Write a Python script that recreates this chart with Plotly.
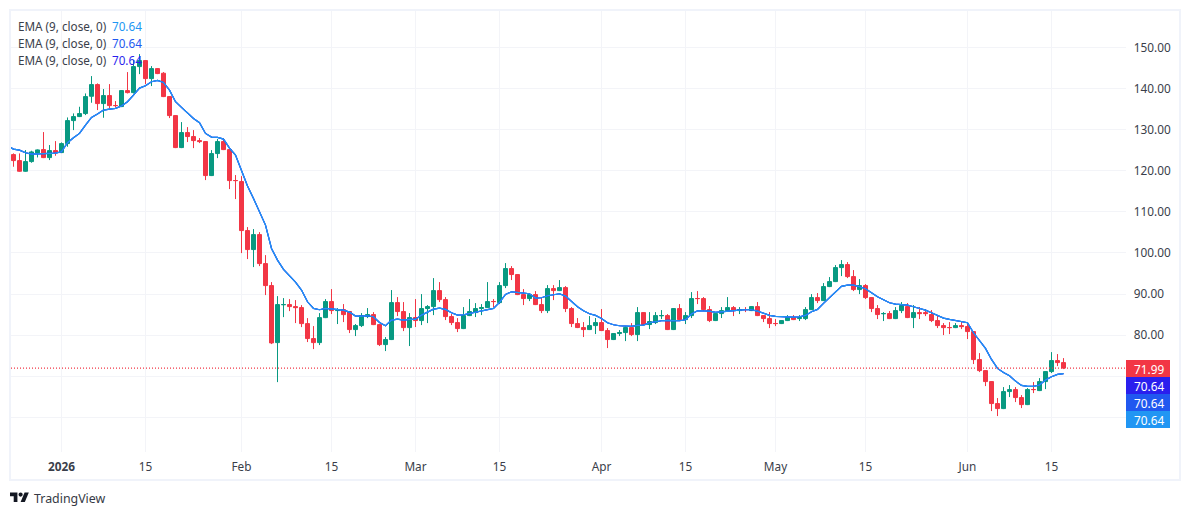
import plotly.graph_objects as go

# Daily OHLC, one row of ten bars per line
opens = [
    123.92, 122.46, 119.87, 122.22, 124.33, 125.14, 123.19, 124.90, 124.41, 126.60,
    132.19, 133.17, 133.90, 138.11, 140.95, 136.33, 138.28, 135.86, 135.60, 139.49,
    139.00, 145.33, 146.79, 142.41, 144.84, 143.71, 138.03, 133.41, 125.63, 129.28,
    128.31, 127.33, 127.09, 118.82, 124.17, 127.09, 125.14, 117.62, 117.36, 105.44,
    100.82, 104.46, 97.41, 92.06, 78.19, 87.42, 87.44, 86.95, 86.71, 82.81,
    79.17, 78.19, 84.27, 88.17, 85.98, 86.22, 85.74, 81.36, 82.33, 84.52,
    85.01, 82.57, 77.71, 78.93, 87.92, 85.74, 81.84, 84.28, 83.55, 86.47,
    86.95, 90.84, 88.65, 84.52, 83.06, 81.60, 84.76, 85.49, 86.47, 86.71,
    88.19, 87.92, 92.06, 96.20, 94.74, 89.87, 88.90, 89.87, 87.44, 85.98,
    91.33, 90.84, 91.57, 86.47, 82.82, 81.85, 81.36, 82.33, 83.06, 81.12,
    78.93, 80.39, 80.63, 81.85, 80.14, 85.49, 82.58, 83.06, 84.74, 84.76,
    81.36, 86.47, 83.79, 84.76, 88.92, 88.90, 86.22, 83.55, 85.25, 85.98,
    86.71, 85.98, 86.24, 85.98, 86.95, 84.76, 84.03, 82.84, 82.82, 83.55,
    84.28, 84.03, 84.03, 86.22, 89.14, 88.41, 91.82, 93.03, 96.44, 97.17,
    94.25, 91.09, 92.06, 89.14, 86.47, 85.23, 85.25, 84.03, 85.98, 86.95,
    84.28, 85.49, 85.49, 85.01, 83.55, 82.33, 81.86, 81.84, 82.33, 82.09,
    80.87, 74.06, 71.38, 68.71, 63.36, 62.14, 66.28, 66.76, 64.82, 63.11,
    66.78, 66.52, 68.71, 71.14, 73.82, 73.33,
]
highs = [
    124.21, 124.21, 125.02, 124.86, 125.18, 129.40, 126.24, 127.21, 126.88, 132.96,
    133.94, 135.56, 138.80, 143.02, 141.24, 139.86, 141.07, 136.94, 139.61, 143.99,
    146.91, 148.37, 146.91, 145.45, 144.96, 143.99, 138.15, 133.53, 131.83, 130.61,
    129.88, 127.94, 127.21, 125.02, 127.70, 127.94, 125.26, 118.94, 118.69, 106.29,
    105.80, 105.07, 99.47, 92.91, 89.50, 89.02, 88.77, 88.53, 87.31, 84.15,
    82.21, 85.37, 88.77, 91.21, 86.58, 87.56, 85.86, 82.70, 85.37, 86.59,
    85.61, 82.70, 79.53, 90.97, 89.26, 88.05, 85.37, 88.78, 89.99, 87.32,
    93.88, 92.91, 89.26, 85.13, 84.15, 86.83, 88.78, 87.80, 87.56, 92.91,
    88.78, 92.91, 97.53, 96.80, 94.86, 91.21, 90.24, 90.72, 89.02, 92.18,
    92.18, 93.40, 91.94, 86.83, 84.16, 83.18, 84.64, 84.16, 86.35, 81.72,
    80.51, 81.24, 82.21, 82.94, 86.83, 85.61, 85.61, 85.61, 86.10, 85.13,
    86.59, 87.56, 85.61, 90.48, 90.72, 89.26, 87.08, 85.61, 86.83, 89.26,
    87.08, 86.83, 86.83, 87.08, 88.05, 84.88, 85.61, 83.91, 83.67, 84.88,
    84.88, 84.88, 86.83, 89.99, 90.24, 92.67, 94.13, 97.05, 98.26, 97.78,
    95.83, 93.64, 92.42, 89.26, 87.32, 85.61, 85.86, 86.83, 88.05, 87.80,
    87.32, 86.83, 86.34, 86.10, 84.64, 82.94, 83.18, 82.94, 83.18, 82.70,
    80.99, 75.64, 71.51, 68.83, 64.70, 67.37, 67.86, 67.37, 65.42, 67.13,
    68.59, 69.56, 71.26, 75.88, 75.40, 74.42,
]
lows = [
    120.97, 119.75, 119.75, 121.94, 123.23, 123.07, 122.59, 123.64, 124.29, 125.83,
    129.88, 133.05, 133.53, 136.53, 134.75, 132.88, 135.15, 135.40, 135.48, 138.80,
    138.80, 143.50, 141.07, 140.59, 143.50, 137.91, 132.80, 125.50, 125.50, 126.97,
    125.50, 126.72, 117.72, 118.70, 123.07, 125.02, 115.53, 113.10, 99.96, 98.51,
    96.56, 96.80, 89.75, 77.83, 68.58, 84.39, 85.85, 82.94, 81.96, 78.32,
    76.61, 77.59, 84.15, 85.13, 82.70, 83.18, 80.51, 79.78, 81.97, 84.15,
    82.45, 77.35, 76.13, 78.81, 84.64, 80.99, 77.35, 81.97, 82.45, 82.94,
    84.88, 88.05, 83.67, 82.45, 80.75, 81.48, 84.64, 84.40, 84.88, 86.59,
    86.83, 87.56, 91.45, 93.40, 89.75, 87.32, 88.29, 87.32, 85.37, 85.37,
    88.53, 90.72, 85.61, 81.97, 81.72, 79.54, 81.24, 80.27, 80.99, 76.86,
    78.81, 79.78, 78.56, 79.78, 78.56, 82.45, 81.48, 82.70, 83.91, 81.24,
    81.24, 83.43, 82.70, 84.16, 87.56, 85.86, 83.18, 83.43, 84.16, 85.86,
    84.64, 85.13, 85.61, 85.86, 84.64, 83.18, 81.72, 82.21, 82.70, 83.43,
    83.67, 83.43, 83.67, 86.10, 87.80, 88.29, 91.69, 92.91, 94.37, 93.88,
    90.72, 89.99, 88.78, 85.61, 83.91, 83.43, 83.91, 83.91, 85.37, 84.15,
    81.72, 83.91, 84.64, 83.18, 81.72, 80.02, 80.26, 81.72, 81.48, 79.05,
    72.97, 71.02, 67.61, 61.53, 60.32, 62.02, 64.94, 63.72, 62.26, 62.99,
    65.91, 66.40, 66.88, 70.78, 72.48, 71.75,
]
closes = [
    122.46, 119.87, 122.22, 124.57, 125.06, 123.19, 124.90, 124.41, 126.60, 132.19,
    133.17, 133.90, 138.03, 140.95, 136.33, 138.28, 135.84, 135.84, 139.49, 139.00,
    145.33, 146.79, 142.41, 144.84, 143.63, 138.03, 133.41, 125.63, 129.28, 128.31,
    127.33, 127.09, 118.82, 124.17, 127.09, 125.14, 117.60, 117.60, 105.44, 100.82,
    104.46, 97.41, 92.06, 78.11, 87.44, 87.44, 86.95, 86.71, 82.81, 79.17,
    78.19, 84.27, 88.17, 85.98, 86.22, 85.00, 81.36, 82.33, 84.76, 85.01,
    82.57, 77.71, 78.93, 87.92, 85.74, 81.84, 84.28, 83.55, 86.47, 86.95,
    90.84, 88.65, 84.52, 83.06, 81.60, 84.76, 85.74, 86.47, 86.71, 88.17,
    88.17, 92.06, 96.20, 94.74, 89.87, 88.90, 89.87, 87.44, 85.98, 91.33,
    90.84, 91.57, 86.47, 82.82, 81.85, 81.36, 82.33, 83.06, 81.12, 78.93,
    80.39, 80.63, 81.85, 80.14, 85.49, 82.58, 83.31, 84.76, 84.76, 81.36,
    86.47, 83.79, 84.76, 88.90, 88.90, 86.22, 83.55, 85.25, 85.98, 86.71,
    85.98, 86.22, 86.22, 86.95, 84.76, 84.03, 82.82, 82.82, 83.55, 84.28,
    83.79, 84.28, 86.22, 89.14, 88.41, 91.82, 93.03, 96.44, 97.17, 94.25,
    91.09, 92.06, 89.14, 86.47, 85.01, 85.25, 84.03, 85.98, 87.20, 84.28,
    85.49, 85.25, 85.25, 83.55, 82.33, 81.84, 81.84, 82.33, 82.09, 80.87,
    74.06, 71.38, 68.71, 63.36, 62.14, 66.28, 66.76, 64.82, 63.11, 66.76,
    66.76, 68.71, 71.14, 73.82, 73.33, 71.99,
]

# EMA reading for the bar just before the window, then one per visible bar
ema_9 = [
    126.07,
    125.26, 125.02, 124.37, 124.05, 124.13, 124.21, 124.29, 124.29, 124.62, 126.80,
    128.02, 129.07, 131.10, 132.96, 133.78, 134.75, 134.99, 135.15, 135.72, 136.78,
    138.40, 140.10, 140.67, 141.64, 141.97, 141.48, 139.61, 136.78, 135.40, 133.94,
    132.72, 131.67, 129.07, 128.18, 128.10, 127.70, 125.50, 123.80, 120.15, 116.26,
    113.26, 110.02, 106.77, 101.10, 98.26, 95.99, 94.37, 92.91, 90.96, 88.12,
    86.50, 86.18, 86.50, 86.42, 86.34, 86.10, 85.61, 84.64, 84.64, 84.72,
    84.48, 83.10, 82.29, 83.67, 83.91, 83.67, 83.83, 83.83, 84.88, 85.70,
    86.34, 86.59, 86.26, 85.45, 84.88, 84.96, 85.29, 85.61, 86.02, 86.26,
    86.51, 87.96, 89.91, 90.56, 90.48, 90.24, 90.07, 89.02, 89.10, 89.59,
    89.83, 90.07, 89.51, 88.13, 86.90, 85.94, 85.21, 84.80, 84.07, 83.02,
    82.53, 82.29, 82.13, 82.13, 82.37, 82.45, 83.02, 83.35, 83.51, 83.59,
    83.59, 83.51, 83.75, 85.13, 85.94, 85.86, 85.86, 85.53, 85.70, 85.94,
    86.02, 86.10, 86.18, 86.18, 85.86, 85.29, 84.80, 84.56, 84.48, 84.48,
    84.40, 84.48, 84.80, 85.70, 86.26, 87.72, 89.18, 90.56, 91.86, 92.18,
    92.18, 91.78, 91.29, 90.32, 89.34, 88.61, 87.88, 87.56, 87.48, 87.32,
    86.91, 86.51, 86.10, 85.45, 84.80, 84.15, 83.83, 83.59, 83.34, 83.02,
    80.59, 78.80, 76.78, 74.10, 71.91, 70.94, 70.13, 68.83, 67.78, 67.53,
    67.53, 67.86, 69.07, 69.88, 70.45, 70.64,
]

last_close = 71.99
last_ema = 70.64

price_ticks = [60, 70, 80, 90, 100, 110, 120, 130, 140, 150]
price_labels = ["", "", "80.00", "90.00", "100.00", "110.00", "120.00", "130.00", "140.00", "150.00"]
time_ticks = [8, 22, 38, 53, 67, 81, 98, 112, 127, 142, 159, 173]
time_labels = ["<b>2026</b>", "15", "Feb", "15", "Mar", "15", "Apr", "15", "May", "15", "Jun", "15"]

ema_colors = ["#2A1FEE", "#2158F0", "#2196F3"]

GREEN = "#089981"
RED = "#F23645"
GRID = "#F3F4F8"
INK = "#131722"
LABEL = "#3A3E4A"
FONT = "Noto Sans"

WIDTH, HEIGHT = 1190, 515
LEFT, RIGHT, TOP, BOTTOM = 11, 1126, 11, 452


def fx(px):
    """Screen x to paper fraction."""
    return (px - LEFT) / (RIGHT - LEFT)


def fy(py):
    """Screen y to paper fraction."""
    return (BOTTOM - py) / (BOTTOM - TOP)


bars = list(range(len(closes)))
ema_bars = list(range(-1, len(closes)))

fig = go.Figure()
fig.add_trace(go.Candlestick(
    x=bars, open=opens, high=highs, low=lows, close=closes,
    increasing=dict(line=dict(color=GREEN, width=1), fillcolor=GREEN),
    decreasing=dict(line=dict(color=RED, width=1), fillcolor=RED),
    whiskerwidth=0, showlegend=False,
))
for color in ema_colors:
    fig.add_trace(go.Scatter(
        x=ema_bars, y=ema_9, mode="lines", showlegend=False,
        line=dict(color=color, width=1.2),
    ))

shapes = [
    # Dotted line at the last close
    dict(type="line", xref="paper", yref="y", x0=0, x1=1, y0=last_close, y1=last_close,
         line=dict(color=RED, width=1.3, dash="1px,2px"), layer="above"),
    # Outer frame
    dict(type="rect", xref="paper", yref="paper", x0=fx(10), x1=fx(1180), y0=fy(10), y1=fy(480),
         line=dict(color="#F0F3FA", width=2), fillcolor="rgba(0,0,0,0)", layer="above"),
]

annotations = []

# Last-value tags on the price scale
tags = [(360, 377, RED, last_close), (377, 394, ema_colors[0], last_ema),
        (394, 411, ema_colors[1], last_ema), (411, 428, ema_colors[2], last_ema)]
for top, bottom, color, value in tags:
    shapes.append(dict(type="rect", xref="paper", yref="paper",
                       x0=fx(1126), x1=fx(1170), y0=fy(top), y1=fy(bottom),
                       fillcolor=color, line=dict(width=0), layer="above"))
    annotations.append(dict(xref="paper", yref="paper", x=fx(1148.8), y=fy((top + bottom) / 2),
                            text=f"{value:.2f}", showarrow=False, xanchor="center", yanchor="middle",
                            font=dict(family=FONT, size=11.8, color="#FFFFFF")))

# Indicator legend rows
for row_y, color in zip([26, 43, 60], reversed(ema_colors)):
    annotations.append(dict(xref="paper", yref="paper", x=fx(16), y=fy(row_y),
                            text="EMA (9, close, 0)", showarrow=False, xanchor="left", yanchor="middle",
                            font=dict(family=FONT, size=11.7, color=LABEL)))
    annotations.append(dict(xref="paper", yref="paper", x=fx(109.5), y=fy(row_y),
                            text=f"{last_ema:.2f}", showarrow=False, xanchor="left", yanchor="middle",
                            font=dict(family=FONT, size=11.7, color=color)))

# Brand mark and wordmark in the lower left
LOGO_X, LOGO_Y, LOGO_S = 10.0, 492.5, 0.53


def lx(u):
    return fx(LOGO_X + u * LOGO_S)


def ly(v):
    return fy(LOGO_Y + (v - 4) * LOGO_S)


def outline(points):
    return "M" + "L".join(f"{lx(u):.5f},{ly(v):.5f}" for u, v in points) + "Z"


shapes.append(dict(type="path", xref="paper", yref="paper", layer="above", line=dict(width=0),
                   fillcolor=INK,
                   path=outline([(0, 4), (14, 4), (14, 22), (7, 22), (7, 11), (0, 11)])))
shapes.append(dict(type="path", xref="paper", yref="paper", layer="above", line=dict(width=0),
                   fillcolor=INK,
                   path=outline([(27.5, 4), (35.5, 4), (28, 22), (20, 22)])))
shapes.append(dict(type="circle", xref="paper", yref="paper", layer="above", line=dict(width=0),
                   fillcolor=INK, x0=lx(16), x1=lx(24), y0=ly(12), y1=ly(4)))
annotations.append(dict(xref="paper", yref="paper", x=fx(31.5), y=fy(498), text="TradingView",
                        showarrow=False, xanchor="left", yanchor="middle",
                        font=dict(family=FONT, size=12.4, color="#363A45")))

fig.update_layout(
    width=WIDTH, height=HEIGHT,
    margin=dict(l=LEFT, r=WIDTH - RIGHT, t=TOP, b=HEIGHT - BOTTOM, pad=0),
    paper_bgcolor="#FFFFFF", plot_bgcolor="#FFFFFF",
    boxgap=1 / 3, boxgroupgap=0,
    shapes=shapes, annotations=annotations,
    font=dict(family=FONT, size=12, color=LABEL),
    xaxis=dict(
        range=[-0.41667, 185.41667], rangeslider=dict(visible=False),
        tickmode="array", tickvals=time_ticks, ticktext=time_labels,
        showgrid=True, gridcolor=GRID, gridwidth=1, zeroline=False, showline=False,
        ticks="outside", ticklen=4, tickcolor="rgba(0,0,0,0)",
        tickfont=dict(family=FONT, size=11.8, color=LABEL),
    ),
    yaxis=dict(
        side="right", range=[51.58, 158.85],
        tickmode="array", tickvals=price_ticks, ticktext=price_labels,
        showgrid=True, gridcolor=GRID, gridwidth=1, zeroline=False, showline=False,
        ticks="outside", ticklen=4.5, tickcolor="rgba(0,0,0,0)",
        tickfont=dict(family=FONT, size=11.8, color=LABEL),
    ),
)

fig.write_html("out.html", config=dict(displayModeBar=False))
